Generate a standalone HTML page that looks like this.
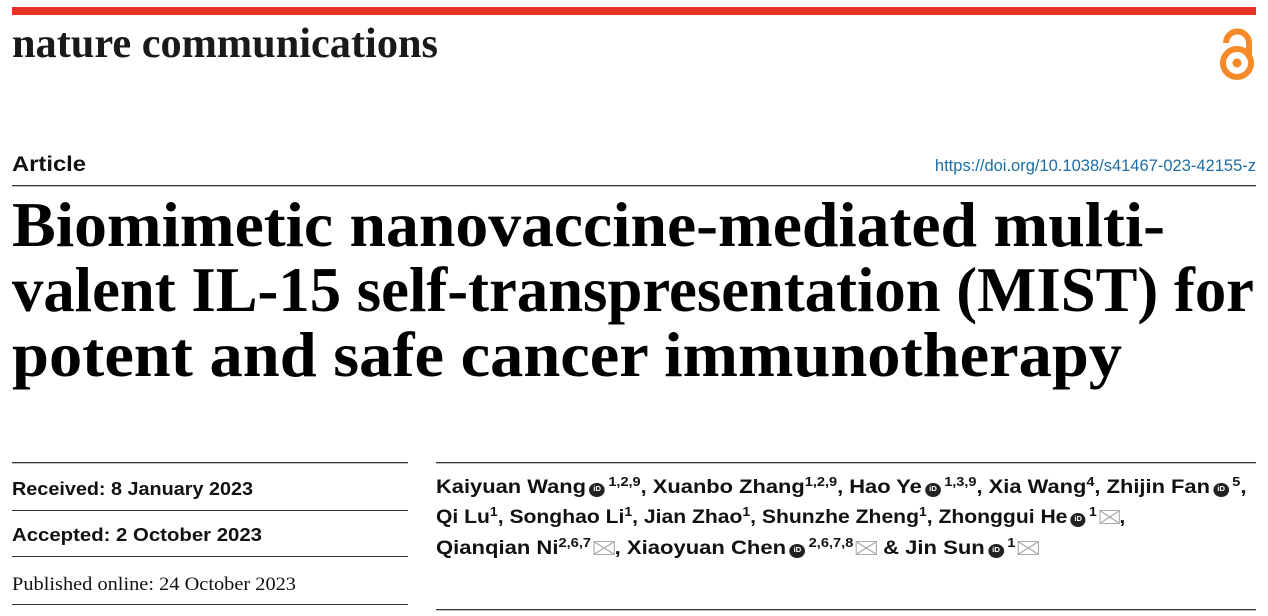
<!DOCTYPE html>
<html><head><meta charset="utf-8"><style>
html,body{margin:0;padding:0;background:#fff;}
body{width:1268px;height:616px;position:relative;overflow:hidden;font-family:"Liberation Sans",sans-serif;}
.a{position:absolute;white-space:nowrap;}
.au{position:absolute;left:436px;font-weight:bold;font-size:19.6px;color:#111;white-space:nowrap;transform-origin:0 0;}
sup{font-size:13px;vertical-align:7px;line-height:0;}
.o{display:inline-block;width:14px;height:14px;border-radius:50%;background:#222;color:#fff;font-size:7px;text-align:center;line-height:14px;vertical-align:2px;margin:0 3px 0 3px;}
.e{display:inline-block;width:19px;height:14px;border:1px solid #aaa;box-sizing:border-box;vertical-align:-1px;margin-left:2px;background:linear-gradient(35deg,transparent 46%,#aaa 48%,#aaa 52%,transparent 54%),linear-gradient(-35deg,transparent 46%,#aaa 48%,#aaa 52%,transparent 54%);}
</style></head><body>
<svg class="a" style="left:0;top:0" width="1268" height="616">
<rect x="12" y="7" width="1244" height="8" fill="#e43225"/>
<text x="12" y="57" font-family="Liberation Serif,serif" font-weight="bold" font-size="42" fill="#1a1a1a" textLength="426" lengthAdjust="spacingAndGlyphs">nature communications</text>
<g fill="none" stroke="#f58a26" stroke-width="6">
<path d="M1226,43 A11.5,11.5 0 0 1 1249,43 L1249,58"/>
<circle cx="1237" cy="63" r="14"/>
</g>
<circle cx="1237" cy="63" r="4.5" fill="#f58a26"/>
<text x="12" y="171" font-weight="bold" font-size="21" fill="#111" textLength="74" lengthAdjust="spacingAndGlyphs">Article</text>
<text x="1256" y="171" text-anchor="end" font-size="16.5" fill="#1c6ea4">https://doi.org/10.1038/s41467-023-42155-z</text>
<rect x="12" y="185" width="1244" height="1.3" fill="#333"/>
<g font-family="Liberation Serif,serif" font-weight="bold" font-size="64" fill="#000">
<text x="12" y="246" textLength="1153" lengthAdjust="spacingAndGlyphs">Biomimetic nanovaccine-mediated multi-</text>
<text x="12" y="311" textLength="1242" lengthAdjust="spacingAndGlyphs">valent IL-15 self-transpresentation (MIST) for</text>
<text x="12" y="376" textLength="1110" lengthAdjust="spacingAndGlyphs">potent and safe cancer immunotherapy</text>
</g>
<g fill="#333">
<rect x="12" y="462" width="396" height="1.3"/>
<rect x="12" y="510" width="396" height="1"/>
<rect x="12" y="556" width="396" height="1"/>
<rect x="12" y="604" width="396" height="1"/>
<rect x="436" y="462" width="820" height="1.3"/>
<rect x="436" y="609" width="820" height="1.3"/>
</g>
<text x="12" y="495" font-weight="bold" font-size="18.5" fill="#111" textLength="241" lengthAdjust="spacingAndGlyphs">Received: 8 January 2023</text>
<text x="12" y="541" font-weight="bold" font-size="18.5" fill="#111" textLength="250" lengthAdjust="spacingAndGlyphs">Accepted: 2 October 2023</text>
<text x="12" y="590" font-family="Liberation Serif,serif" font-size="19" fill="#111" textLength="284" lengthAdjust="spacingAndGlyphs">Published online: 24 October 2023</text>
</svg>
<div class="au" style="top:476px;transform:scaleX(1.117)">Kaiyuan Wang<span class="o">iD</span><sup>1,2,9</sup>, Xuanbo Zhang<sup>1,2,9</sup>, Hao Ye<span class="o">iD</span><sup>1,3,9</sup>, Xia Wang<sup>4</sup>, Zhijin Fan<span class="o">iD</span><sup>5</sup>,</div>
<div class="au" style="top:506px;transform:scaleX(1.077)">Qi Lu<sup>1</sup>, Songhao Li<sup>1</sup>, Jian Zhao<sup>1</sup>, Shunzhe Zheng<sup>1</sup>, Zhonggui He<span class="o">iD</span><sup>1</sup><span class="e"></span>,</div>
<div class="au" style="top:537px;transform:scaleX(1.125)">Qianqian Ni<sup>2,6,7</sup><span class="e"></span>, Xiaoyuan Chen<span class="o">iD</span><sup>2,6,7,8</sup><span class="e"></span> &amp; Jin Sun<span class="o">iD</span><sup>1</sup><span class="e"></span></div>
</body></html>
